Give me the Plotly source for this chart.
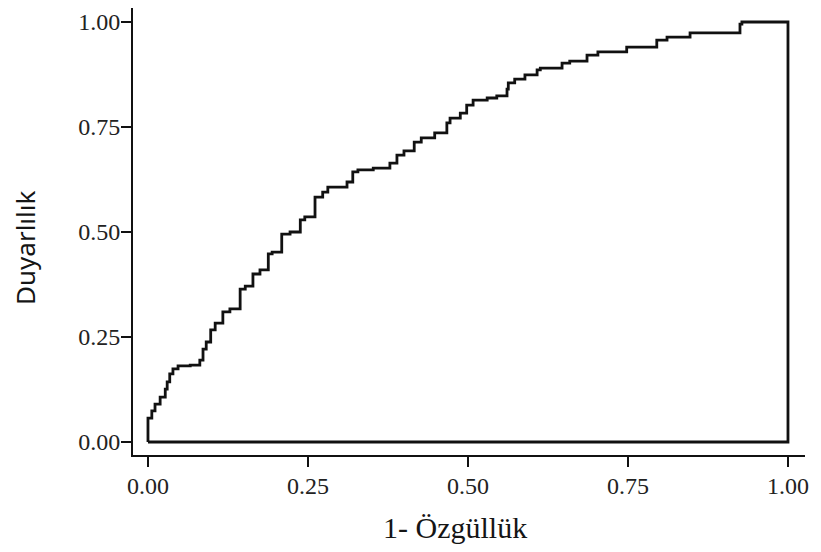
import plotly.graph_objects as go

# ROC curve vertices (1 - specificity, sensitivity)
fpr = [0.000, 0.000, 0.006, 0.011, 0.019, 0.027, 0.030, 0.034, 0.039, 0.047,
       0.066, 0.081, 0.086, 0.091, 0.098, 0.105, 0.117, 0.128, 0.144, 0.152,
       0.164, 0.175, 0.188, 0.194, 0.209, 0.222, 0.238, 0.245, 0.261, 0.273,
       0.281, 0.311, 0.320, 0.328, 0.352, 0.378, 0.389, 0.400, 0.416, 0.427,
       0.448, 0.467, 0.472, 0.488, 0.498, 0.508, 0.530, 0.545, 0.561, 0.563,
       0.573, 0.589, 0.608, 0.613, 0.647, 0.659, 0.686, 0.703, 0.717, 0.748,
       0.753, 0.795, 0.811, 0.847, 0.870, 0.925, 0.928, 1.000, 1.000, 0.000]
tpr = [0.000, 0.040, 0.057, 0.074, 0.090, 0.107, 0.126, 0.143, 0.162, 0.174,
       0.181, 0.183, 0.195, 0.221, 0.238, 0.267, 0.283, 0.310, 0.317, 0.364,
       0.371, 0.400, 0.410, 0.448, 0.452, 0.495, 0.500, 0.529, 0.536, 0.583,
       0.595, 0.607, 0.619, 0.643, 0.648, 0.652, 0.664, 0.683, 0.693, 0.714,
       0.724, 0.736, 0.760, 0.771, 0.783, 0.802, 0.814, 0.819, 0.824, 0.840,
       0.855, 0.864, 0.874, 0.886, 0.890, 0.902, 0.907, 0.921, 0.929, 0.929,
       0.940, 0.940, 0.957, 0.964, 0.974, 0.974, 0.995, 1.000, 0.000, 0.000]

tick_vals = [0.0, 0.25, 0.5, 0.75, 1.0]
tick_text = ["0.00", "0.25", "0.50", "0.75", "1.00"]
x_title = "1- Özgüllük"
y_title = "Duyarlılık"

# page body has an 8px margin; figure is sized to fit inside the window
W, H = 805, 536
L, T, R, B = 125, 0, 8, 89
pw, ph = W - L - R, H - T - B

fig = go.Figure()
fig.add_trace(go.Scatter(
    x=fpr, y=tpr, mode="lines",
    line=dict(color="#111111", width=2.8, shape="vh"),
    hoverinfo="skip", showlegend=False,
))

tick_font = dict(family="Liberation Serif, Times New Roman, serif", size=24, color="#222222")

fig.update_xaxes(
    range=[-0.0234, 1.0266], showgrid=False, zeroline=False,
    showline=True, linecolor="#111111", linewidth=2,
    ticks="outside", ticklen=10, tickwidth=2, tickcolor="#111111",
    tickvals=tick_vals, ticktext=tick_text, tickfont=tick_font,
    ticklabelstandoff=-2,
)
fig.update_yaxes(
    range=[-0.031, 1.0333], showgrid=False, zeroline=False,
    showline=True, linecolor="#111111", linewidth=2,
    ticks="outside", ticklen=10, tickwidth=2, tickcolor="#111111",
    tickvals=tick_vals, ticktext=tick_text, tickfont=tick_font,
    ticklabelstandoff=-4,
)

def px_x(sx):
    return (sx - 8 - L) / pw

def px_y(sy):
    return (H - B - (sy - 8)) / ph

fig.update_layout(
    width=W, height=H,
    margin=dict(l=L, r=R, t=T, b=B),
    paper_bgcolor="white", plot_bgcolor="white",
    annotations=[
        dict(text=x_title, xref="paper", yref="paper",
             x=px_x(455), y=px_y(527),
             xanchor="center", yanchor="middle", showarrow=False,
             font=dict(family="Liberation Serif, Times New Roman, serif", size=30, color="#151515")),
        dict(text=y_title, xref="paper", yref="paper",
             x=px_x(25), y=px_y(248),
             xanchor="center", yanchor="middle", showarrow=False, textangle=-90,
             font=dict(family="Noto Sans, Open Sans, sans-serif", size=26, color="#151515")),
    ],
)

fig.write_html("out.html")
